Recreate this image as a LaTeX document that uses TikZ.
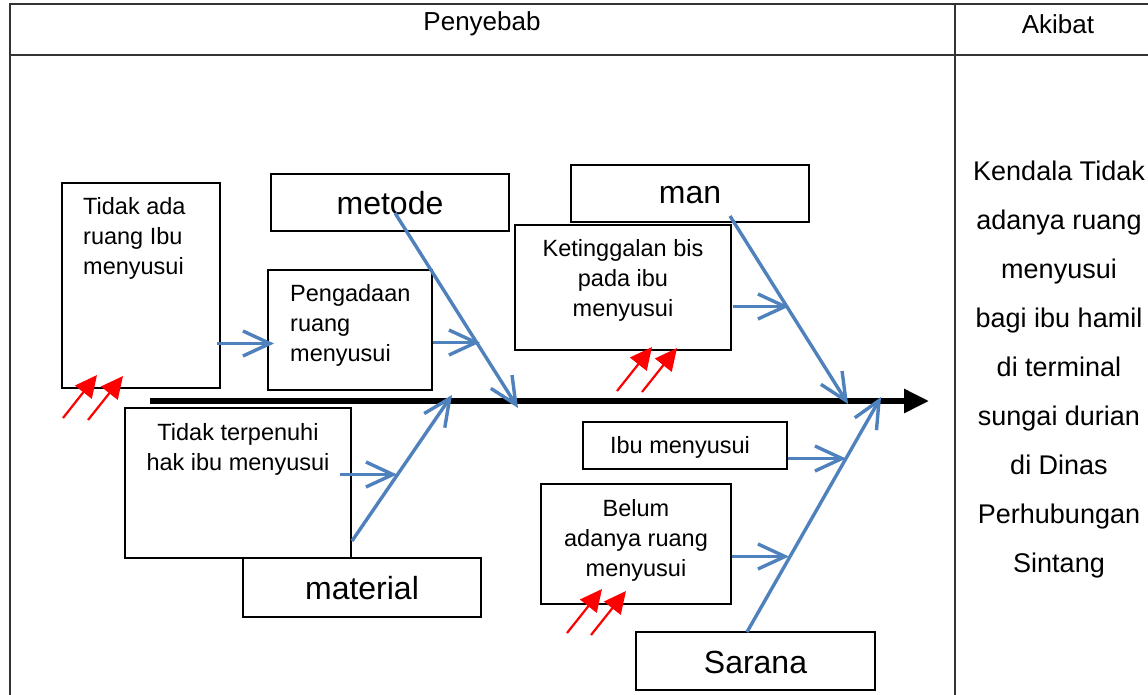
\documentclass[tikz,border=0pt]{standalone}
\usepackage{fontspec}
\setmainfont{Liberation Sans}
\usetikzlibrary{arrows.meta}
\definecolor{boneblue}{HTML}{4F81BD}
\definecolor{tableline}{HTML}{333333}
\begin{document}
\begin{tikzpicture}[x=1pt,y=-1pt,
  tline/.style={draw=tableline,line width=1.6pt},
  box/.style={draw=black,fill=white,line width=2.8pt,inner sep=0pt},
  small/.style={font=\fontsize{23.5}{30}\selectfont,inner sep=0pt,align=center},
  big/.style={font=\fontsize{32}{36}\selectfont,inner sep=0pt},
  head/.style={font=\fontsize{26}{30}\selectfont,inner sep=0pt},
  bone/.style={draw=boneblue,line width=3.4pt,-{Straight Barb[length=27pt,width=25pt,line width=3.4pt]}},
  spine/.style={draw=black,line width=5.8pt,-{Triangle[length=25pt,width=23pt]}},
  redarr/.style={draw=red,fill=red,line width=2.2pt,-{Triangle[length=22pt,width=21pt]}}
]
\useasboundingbox (0,0) rectangle (1148,694);
\fill[white] (0,0) rectangle (1148,694);
% table
\coordinate (tl) at (10,4);
\coordinate (tr) at (1150,4);
\coordinate (hl) at (10,55);
\coordinate (hr) at (1150,55);
\coordinate (bl) at (10,696);
\coordinate (dt) at (955,4);
\coordinate (db) at (955,696);
\draw[tline] (tr) -- (tl) -- (bl);
\draw[tline] (hl) -- (hr);
\draw[tline] (dt) -- (db);
\node[head] (penyebab) at (482,24) {Penyebab};
\node[head] (akibat) at (1058,24) {Akibat};
\node[font=\fontsize{27}{49}\selectfont,inner sep=0pt,align=center] (akibattxt) at (1059,370)
  {Kendala Tidak\\adanya ruang\\menyusui\\bagi ibu hamil\\di terminal\\sungai durian\\di Dinas\\Perhubungan\\Sintang};

% boxes
\node[box,minimum width=158pt,minimum height=205pt] (tidakada) at (141,285.5) {};
\node[small,align=left,anchor=west] (tidakadatxt) at (83,238) {Tidak ada\\ruang Ibu\\menyusui};
\node[box,minimum width=238pt,minimum height=57pt] (metode) at (390,202.5) {};
\node[big] (metodetxt) at (390,203) {metode};
\node[box,minimum width=164pt,minimum height=120pt] (pengadaan) at (350,330) {};
\node[small,align=left,anchor=west] (pengadaantxt) at (290,325) {Pengadaan\\ruang\\menyusui};
\node[box,minimum width=238pt,minimum height=57pt] (man) at (690,193.5) {};
\node[big] (mantxt) at (690,195) {man};
\node[box,minimum width=216pt,minimum height=125pt] (keting) at (623,287.5) {};
\node[small] (ketingtxt) at (623,280) {Ketinggalan bis\\pada ibu\\menyusui};
\node[box,minimum width=226pt,minimum height=150pt] (terpenuhi) at (238,483) {};
\node[small] (terpenuhitxt) at (238,449) {Tidak terpenuhi\\hak ibu menyusui};
\node[box,minimum width=238pt,minimum height=59pt] (material) at (362,587.5) {};
\node[big] (materialtxt) at (362,588) {material};
\node[box,minimum width=204pt,minimum height=47pt] (ibu) at (685,445.5) {};
\node[small] (ibutxt) at (680,447) {Ibu menyusui};
\node[box,minimum width=190pt,minimum height=120pt] (belum) at (636,544) {};
\node[small] (belumtxt) at (636,540) {Belum\\adanya ruang\\menyusui};
\node[box,minimum width=239pt,minimum height=58pt] (sarana) at (755.5,661) {};
\node[big] (saranatxt) at (755.5,662) {Sarana};

% spine
\coordinate (spineS) at (150,401);
\coordinate (spineE) at (929,401);
\draw[spine] (spineS) -- (spineE);

% main bones
\coordinate (metA) at (395,213);
\coordinate (metB) at (518,408);
\draw[bone] (metA) -- (metB);
\coordinate (manA) at (730,216);
\coordinate (manB) at (848,404);
\draw[bone] (manA) -- (manB);
\coordinate (matA) at (352,541);
\coordinate (matB) at (452,395);
\draw[bone] (matA) -- (matB);
\coordinate (sarA) at (747,632);
\coordinate (sarB) at (881,397);
\draw[bone] (sarA) -- (sarB);

% small bones
\coordinate (s1a) at (217,343.5);
\coordinate (s1b) at (274,343.5);
\draw[bone] (s1a) -- (s1b);
\coordinate (s2a) at (433,342.5);
\coordinate (s2b) at (480,342.5);
\draw[bone] (s2a) -- (s2b);
\coordinate (s3a) at (733,306.5);
\coordinate (s3b) at (789,306.5);
\draw[bone] (s3a) -- (s3b);
\coordinate (s4a) at (340,474.5);
\coordinate (s4b) at (397,474.5);
\draw[bone] (s4a) -- (s4b);
\coordinate (s5a) at (788,458.5);
\coordinate (s5b) at (846,458.5);
\draw[bone] (s5a) -- (s5b);
\coordinate (s6a) at (732,556.5);
\coordinate (s6b) at (789,556.5);
\draw[bone] (s6a) -- (s6b);

% red arrows
\coordinate (r1a) at (63,418); \coordinate (r1b) at (97,375);
\coordinate (r2a) at (88,420); \coordinate (r2b) at (123,376);
\coordinate (r3a) at (617,391); \coordinate (r3b) at (652,347);
\coordinate (r4a) at (642,392); \coordinate (r4b) at (677,348);
\coordinate (r5a) at (567,633); \coordinate (r5b) at (602,589);
\coordinate (r6a) at (591,635); \coordinate (r6b) at (626,591);
\draw[redarr] (r1a) -- (r1b);
\draw[redarr] (r2a) -- (r2b);
\draw[redarr] (r3a) -- (r3b);
\draw[redarr] (r4a) -- (r4b);
\draw[redarr] (r5a) -- (r5b);
\draw[redarr] (r6a) -- (r6b);
\end{tikzpicture}
\end{document}
